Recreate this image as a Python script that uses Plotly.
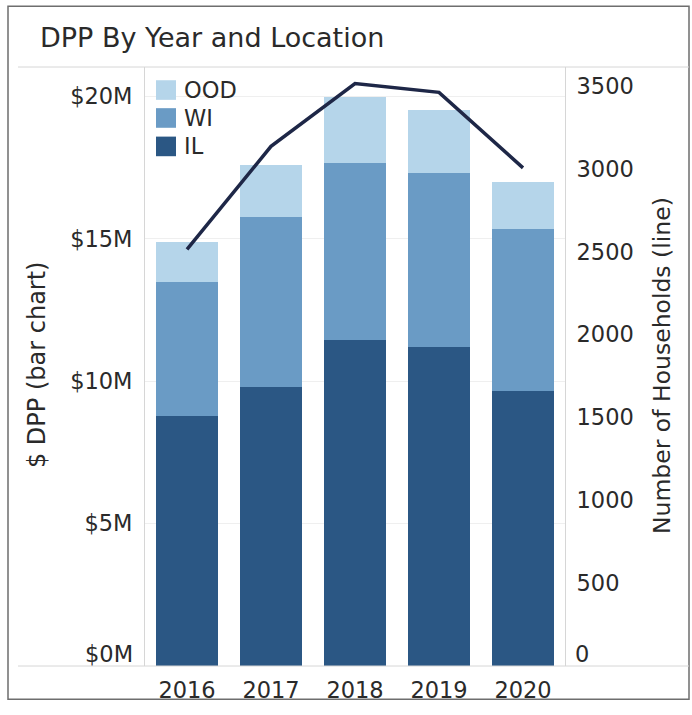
import plotly.graph_objects as go

# ---- data ----
years = ["2016", "2017", "2018", "2019", "2020"]
il_m = [8.78, 9.81, 11.43, 11.19, 9.67]      # $M
wi_m = [4.71, 5.97, 6.23, 6.11, 5.68]        # $M
ood_m = [1.38, 1.81, 2.32, 2.22, 1.64]       # $M
households = [2515, 3136, 3515, 3462, 3006]

series_names = ["IL", "WI", "OOD"]
series_values = [il_m, wi_m, ood_m]
series_colors = ["#2b5784", "#6a9bc5", "#b5d5ea"]
line_color = "#1e2747"

left_tick_vals = [0, 5, 10, 15, 20]
left_tick_text = ["$0M", "$5M", "$10M", "$15M", "$20M"]
right_tick_vals = [0, 500, 1000, 1500, 2000, 2500, 3000, 3500]
right_tick_text = ["0", "500", "1000", "1500", "2000", "2500", "3000", "3500"]

title_text = "DPP By Year and Location"
left_title = "$ DPP (bar chart)"
right_title = "Number of Households (line)"

# ---- layout geometry (pixels) ----
W, H = 692, 715
PL, PR, PT, PB = 145, 565, 67, 678   # plot area edges
FONT = "DejaVu Sans"
TXT = "#2a2a2a"
FS = 22.5


def px(x):
    return (x - PL) / (PR - PL)


def py(y):
    return (PB - y) / (PB - PT)


fig = go.Figure()
for name, vals, col in zip(series_names, series_values, series_colors):
    fig.add_trace(go.Bar(x=years, y=vals, name=name, marker_color=col,
                         marker_line_width=0, showlegend=False, yaxis="y"))

fig.add_trace(go.Scatter(x=years, y=households, mode="lines", yaxis="y2",
                         line=dict(color=line_color, width=3.5),
                         showlegend=False))

shapes = []
annotations = []

# outer border
shapes.append(dict(type="rect", xref="paper", yref="paper",
                   x0=px(8), x1=px(689), y0=py(712), y1=py(5),
                   line=dict(color="#6e6e6e", width=1.5), fillcolor="rgba(0,0,0,0)",
                   layer="below"))
# title separator
shapes.append(dict(type="line", xref="paper", yref="paper",
                   x0=px(18), x1=px(689), y0=py(67), y1=py(67),
                   line=dict(color="#d6d6d6", width=1)))
# bottom baseline
shapes.append(dict(type="line", xref="paper", yref="paper",
                   x0=px(18), x1=px(689), y0=0, y1=0,
                   line=dict(color="#d6d6d6", width=1)))

# manual legend (top to bottom: OOD, WI, IL)
leg_rows = [90.5, 119, 148]
for (name, col), yc in zip(list(zip(series_names, series_colors))[::-1], leg_rows):
    shapes.append(dict(type="rect", xref="paper", yref="paper",
                       x0=px(156), x1=px(176), y0=py(yc + 10), y1=py(yc - 10),
                       line=dict(width=0), fillcolor=col))
    annotations.append(dict(text=name, xref="paper", yref="paper",
                            x=px(182), y=py(yc), xanchor="left", yanchor="middle",
                            showarrow=False, font=dict(size=FS, color=TXT, family=FONT)))

# zero labels (shifted up as in reference)
annotations.append(dict(text=left_tick_text[0], xref="paper", yref="y", x=0, y=0,
                        xanchor="right", yanchor="middle", xshift=-10, yshift=12,
                        showarrow=False, font=dict(size=FS, color=TXT, family=FONT)))
annotations.append(dict(text=right_tick_text[0], xref="paper", yref="y2", x=1, y=0,
                        xanchor="left", yanchor="middle", xshift=8, yshift=12,
                        showarrow=False, font=dict(size=FS, color=TXT, family=FONT)))

# axis titles
annotations.append(dict(text=left_title, xref="paper", yref="paper",
                        x=px(37), y=py(371), xanchor="center", yanchor="middle",
                        textangle=-90, showarrow=False,
                        font=dict(size=24, color=TXT, family=FONT)))
annotations.append(dict(text=right_title, xref="paper", yref="paper",
                        x=px(662), y=py(372), xanchor="center", yanchor="middle",
                        textangle=-90, showarrow=False,
                        font=dict(size=23.5, color=TXT, family=FONT)))

fig.update_layout(
    width=W, height=H,
    margin=dict(l=PL, r=W - PR, t=PT, b=H - PB),
    paper_bgcolor="white", plot_bgcolor="white",
    barmode="stack", bargap=0.26,
    font=dict(family=FONT, size=FS, color=TXT),
    title=dict(text=title_text, xref="container", yref="container",
               x=40 / W, y=1 - 38 / H, xanchor="left", yanchor="middle",
               font=dict(size=27, color=TXT, family=FONT)),
    xaxis=dict(type="category", showgrid=False, showline=False, ticks="",
               ticklabelstandoff=8,
               tickfont=dict(size=FS, color=TXT), zeroline=False),
    yaxis=dict(range=[0, 21.03], tickvals=left_tick_vals,
               ticktext=[""] + left_tick_text[1:],
               showgrid=True, gridcolor="#efefef", gridwidth=1,
               showline=True, linecolor="#d6d6d6", linewidth=1,
               zeroline=False, ticks="", ticklabelstandoff=7,
               tickfont=dict(size=FS, color=TXT)),
    yaxis2=dict(range=[0, 3615], overlaying="y", side="right",
                tickvals=right_tick_vals, ticktext=[""] + right_tick_text[1:],
                showgrid=False, showline=True, linecolor="#d6d6d6", linewidth=1,
                zeroline=False, ticks="", ticklabelstandoff=6,
                tickfont=dict(size=FS, color=TXT)),
    shapes=shapes, annotations=annotations,
)

fig.write_html("out.html", config={"displayModeBar": False},
               post_script="document.body.style.margin='0';")
